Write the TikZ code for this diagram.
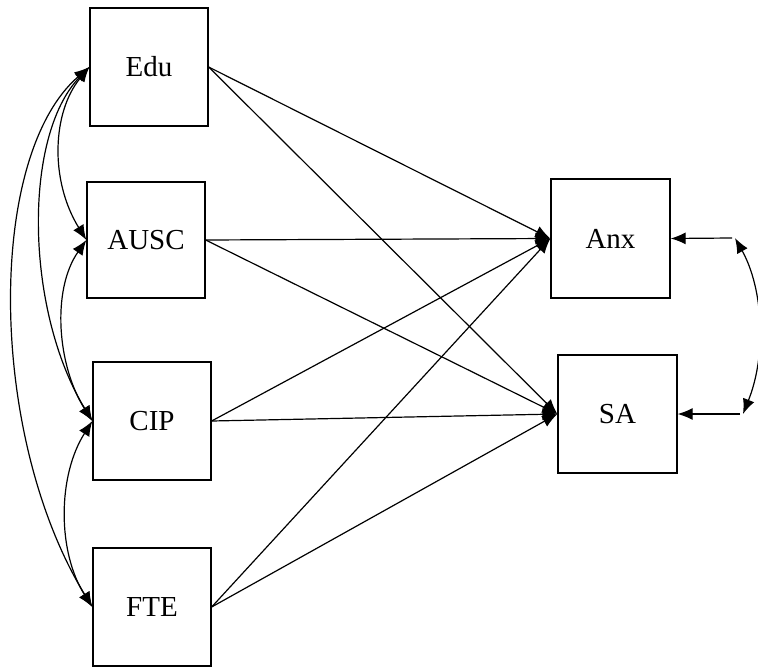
\documentclass[tikz,border=0pt]{standalone}
\usepackage{fontspec}
\setmainfont{Liberation Serif}
\usetikzlibrary{arrows.meta}
\begin{document}
\begin{tikzpicture}[x=1pt,y=-1pt,
  var/.style={draw,line width=1.3pt,minimum width=118pt,minimum height=118pt,inner sep=0pt,font=\fontsize{29}{32}\selectfont},
  path/.style={line width=1.2pt,-{Latex[length=15pt,width=12pt]}},
  cov/.style={line width=1.2pt,{Latex[length=15pt,width=12pt]}-{Latex[length=15pt,width=12pt]}}]
\useasboundingbox (0,0) rectangle (758,669);
\node[var] (edu) at (149,67) {Edu};
\node[var,minimum height=116pt] (ausc) at (146,240) {AUSC};
\node[var] (cip) at (152,421) {CIP};
\node[var] (fte) at (152,607) {FTE};
\node[var,minimum width=119pt,minimum height=119pt] (anx) at (610.5,238.5) {Anx};
\node[var,minimum width=119pt] (sa) at (617.5,414) {SA};
% paths
\foreach \s in {edu,ausc,cip,fte}{
  \draw[path] (\s.east) -- (anx.west);
  \draw[path] (\s.east) -- (sa.west);
}
% covariances left
\draw[cov] (edu.west) .. controls +(-37,45) and +(-37,-60) .. (ausc.west);
\draw[cov] (edu.west) .. controls +(-67,70) and +(-67,-110) .. (cip.west);
\draw[cov] (edu.west) .. controls +(-104,90) and +(-104,-170) .. (fte.west);
\draw[cov] (ausc.west) .. controls +(-35,50) and +(-35,-55) .. (cip.west);
\draw[cov] (cip.west) .. controls +(-35,55) and +(-35,-55) .. (fte.west);
% right side
\coordinate (r1) at (732,238);
\coordinate (r2) at (740,414);
\draw[path] (r1) -- (anx.east);
\draw[path] (r2) -- (sa.east);
\coordinate (c1) at (735,238);
\coordinate (c2) at (743,414);
\draw[cov] (c1) .. controls +(28,50) and +(24,-60) .. (c2);
\end{tikzpicture}
\end{document}
